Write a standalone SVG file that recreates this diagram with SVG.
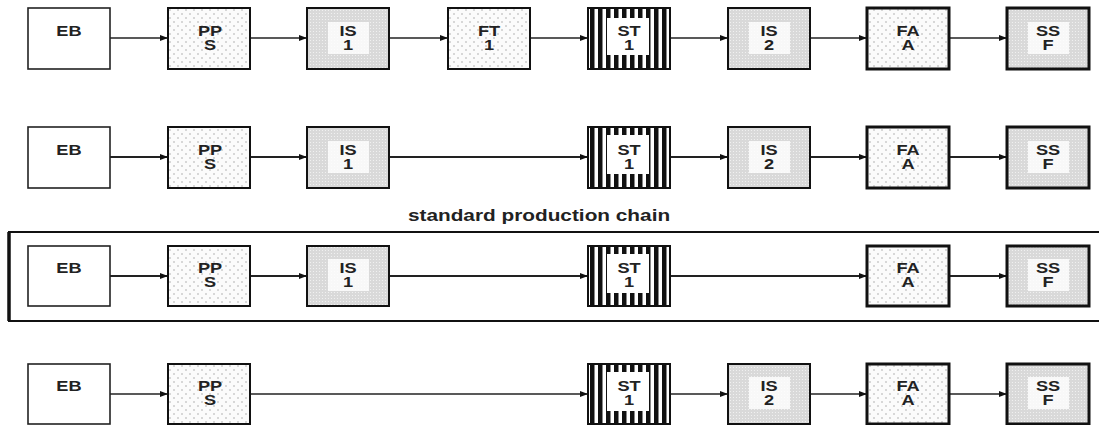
<svg xmlns="http://www.w3.org/2000/svg" width="1099" height="425" viewBox="0 0 1099 425">
<style>
.t{font-family:"Liberation Sans",Arial,sans-serif;font-weight:bold;font-size:14px;fill:#222;text-anchor:middle}
.lbl{font-family:"Liberation Sans",Arial,sans-serif;font-weight:bold;font-size:16px;fill:#222;text-anchor:middle}
.b{stroke:#111;stroke-width:2}
.eb{fill:#fff;stroke:#222;stroke-width:1.6}
.dot{fill:url(#dots)}
.is{fill:url(#stip)}
.st{fill:url(#stripes)}
.thk{stroke-width:3}
.hole{fill:#fff;opacity:0.8}
.c1{stroke:#222;stroke-width:1.4;fill:none;marker-end:url(#ah)}
.c2{stroke:#222;stroke-width:2;fill:none;marker-end:url(#ah)}
</style>
<defs>
<pattern id="dots" width="8" height="8" patternUnits="userSpaceOnUse">
<rect width="8" height="8" fill="#fbfbfb"/>
<circle cx="2" cy="2" r="0.8" fill="#aaa"/>
<circle cx="6" cy="6" r="0.8" fill="#aaa"/>
</pattern>
<pattern id="stip" width="3" height="3" patternUnits="userSpaceOnUse">
<rect width="3" height="3" fill="#d9d9d9"/>
<circle cx="1.5" cy="1.5" r="0.6" fill="#f4f4f4"/>
</pattern>
<pattern id="stripes" width="8" height="8" patternUnits="userSpaceOnUse" x="588">
<rect width="8" height="8" fill="#fff"/>
<rect x="2" width="4.5" height="8" fill="#111"/>
</pattern>
<marker id="ah" markerWidth="8" markerHeight="6" refX="8" refY="3" orient="auto" markerUnits="userSpaceOnUse">
<path d="M0,0 L8,3 L0,6 Z" fill="#111"/>
</marker>
</defs>

<g id="frame">
<path d="M1099,232 H9 V321 H1099" fill="none" stroke="#111" stroke-width="2"/>
<path d="M9,232 V321" stroke="#111" stroke-width="3.5"/>
<g transform="translate(539 221) scale(1.3 1)"><text class="lbl" x="0" y="0">standard production chain</text></g>
</g>

<g id="connectors">
<path class="c1" d="M110,38 H168"/>
<path class="c1" d="M250,38 H307"/>
<path class="c1" d="M389,38 H448"/>
<path class="c1" d="M530,38 H588"/>
<path class="c1" d="M670,38 H728"/>
<path class="c1" d="M810,38 H867"/>
<path class="c1" d="M949,38 H1007"/>
<path class="c2" d="M110,157 H168"/>
<path class="c2" d="M250,157 H307"/>
<path class="c2" d="M389,157 H588"/>
<path class="c2" d="M670,157 H728"/>
<path class="c2" d="M810,157 H867"/>
<path class="c2" d="M949,157 H1007"/>
<path class="c2" d="M110,276 H168"/>
<path class="c2" d="M250,276 H307"/>
<path class="c2" d="M389,276 H588"/>
<path class="c2" d="M670,276 H867"/>
<path class="c2" d="M949,276 H1007"/>
<path class="c1" d="M110,394 H168"/>
<path class="c1" d="M250,394 H588"/>
<path class="c1" d="M670,394 H728"/>
<path class="c1" d="M810,394 H867"/>
<path class="c1" d="M949,394 H1007"/>
</g>

<!-- Row 1 -->
<g id="r1-eb"><rect x="28" y="8" width="82" height="61" class="eb"/><g transform="translate(69 0) scale(1.3 1)"><text class="t" x="0" y="36">EB</text></g></g>
<g id="r1-pps"><rect x="168" y="8" width="82" height="61" class="dot b"/><g transform="translate(210 0) scale(1.3 1)"><text class="t" x="0" y="36">PP</text><text class="t" x="0" y="50">S</text></g></g>
<g id="r1-is1"><rect x="307" y="8" width="82" height="61" class="is b"/><rect x="328" y="22" width="41" height="32" class="hole"/><g transform="translate(348 0) scale(1.3 1)"><text class="t" x="0" y="36">IS</text><text class="t" x="0" y="50">1</text></g></g>
<g id="r1-ft1"><rect x="448" y="8" width="82" height="61" class="dot b"/><g transform="translate(489 0) scale(1.3 1)"><text class="t" x="0" y="36">FT</text><text class="t" x="0" y="50">1</text></g></g>
<g id="r1-st1"><rect x="588" y="8" width="82" height="61" class="st b"/><rect x="607" y="18" width="42" height="37" fill="#fff"/><g transform="translate(629 0) scale(1.3 1)"><text class="t" x="0" y="36">ST</text><text class="t" x="0" y="50">1</text></g></g>
<g id="r1-is2"><rect x="728" y="8" width="82" height="61" class="is b"/><rect x="749" y="22" width="41" height="32" class="hole"/><g transform="translate(769 0) scale(1.3 1)"><text class="t" x="0" y="36">IS</text><text class="t" x="0" y="50">2</text></g></g>
<g id="r1-fa"><rect x="867" y="8" width="82" height="61" class="dot b thk"/><g transform="translate(908 0) scale(1.3 1)"><text class="t" x="0" y="36">FA</text><text class="t" x="0" y="50">A</text></g></g>
<g id="r1-ssf"><rect x="1007" y="8" width="82" height="61" class="is b thk"/><rect x="1028" y="22" width="41" height="32" class="hole"/><g transform="translate(1048 0) scale(1.3 1)"><text class="t" x="0" y="36">SS</text><text class="t" x="0" y="50">F</text></g></g>

<!-- Row 2 -->
<g id="r2-eb"><rect x="28" y="127" width="82" height="61" class="eb"/><g transform="translate(69 0) scale(1.3 1)"><text class="t" x="0" y="155">EB</text></g></g>
<g id="r2-pps"><rect x="168" y="127" width="82" height="61" class="dot b"/><g transform="translate(210 0) scale(1.3 1)"><text class="t" x="0" y="155">PP</text><text class="t" x="0" y="169">S</text></g></g>
<g id="r2-is1"><rect x="307" y="127" width="82" height="61" class="is b"/><rect x="328" y="141" width="41" height="32" class="hole"/><g transform="translate(348 0) scale(1.3 1)"><text class="t" x="0" y="155">IS</text><text class="t" x="0" y="169">1</text></g></g>
<g id="r2-st1"><rect x="588" y="127" width="82" height="61" class="st b"/><rect x="607" y="135" width="42" height="39" fill="#fff"/><g transform="translate(629 0) scale(1.3 1)"><text class="t" x="0" y="155">ST</text><text class="t" x="0" y="169">1</text></g></g>
<g id="r2-is2"><rect x="728" y="127" width="82" height="61" class="is b"/><rect x="749" y="141" width="41" height="32" class="hole"/><g transform="translate(769 0) scale(1.3 1)"><text class="t" x="0" y="155">IS</text><text class="t" x="0" y="169">2</text></g></g>
<g id="r2-fa"><rect x="867" y="127" width="82" height="61" class="dot b thk"/><g transform="translate(908 0) scale(1.3 1)"><text class="t" x="0" y="155">FA</text><text class="t" x="0" y="169">A</text></g></g>
<g id="r2-ssf"><rect x="1007" y="127" width="82" height="61" class="is b thk"/><rect x="1028" y="141" width="41" height="32" class="hole"/><g transform="translate(1048 0) scale(1.3 1)"><text class="t" x="0" y="155">SS</text><text class="t" x="0" y="169">F</text></g></g>

<!-- Row 3 -->
<g id="r3-eb"><rect x="28" y="246" width="82" height="60" class="eb"/><g transform="translate(69 0) scale(1.3 1)"><text class="t" x="0" y="273">EB</text></g></g>
<g id="r3-pps"><rect x="168" y="246" width="82" height="60" class="dot b"/><g transform="translate(210 0) scale(1.3 1)"><text class="t" x="0" y="273">PP</text><text class="t" x="0" y="287">S</text></g></g>
<g id="r3-is1"><rect x="307" y="246" width="82" height="60" class="is b"/><rect x="328" y="259" width="41" height="32" class="hole"/><g transform="translate(348 0) scale(1.3 1)"><text class="t" x="0" y="273">IS</text><text class="t" x="0" y="287">1</text></g></g>
<g id="r3-st1"><rect x="588" y="246" width="82" height="60" class="st b"/><rect x="607" y="254" width="42" height="39" fill="#fff"/><g transform="translate(629 0) scale(1.3 1)"><text class="t" x="0" y="273">ST</text><text class="t" x="0" y="287">1</text></g></g>
<g id="r3-fa"><rect x="867" y="246" width="82" height="60" class="dot b thk"/><g transform="translate(908 0) scale(1.3 1)"><text class="t" x="0" y="273">FA</text><text class="t" x="0" y="287">A</text></g></g>
<g id="r3-ssf"><rect x="1007" y="246" width="82" height="60" class="is b thk"/><rect x="1028" y="259" width="41" height="32" class="hole"/><g transform="translate(1048 0) scale(1.3 1)"><text class="t" x="0" y="273">SS</text><text class="t" x="0" y="287">F</text></g></g>

<!-- Row 4 -->
<g id="r4-eb"><rect x="28" y="364" width="82" height="60" class="eb"/><g transform="translate(69 0) scale(1.3 1)"><text class="t" x="0" y="391">EB</text></g></g>
<g id="r4-pps"><rect x="168" y="364" width="82" height="60" class="dot b"/><g transform="translate(210 0) scale(1.3 1)"><text class="t" x="0" y="391">PP</text><text class="t" x="0" y="405">S</text></g></g>
<g id="r4-st1"><rect x="588" y="364" width="82" height="60" class="st b"/><rect x="607" y="372" width="42" height="39" fill="#fff"/><g transform="translate(629 0) scale(1.3 1)"><text class="t" x="0" y="391">ST</text><text class="t" x="0" y="405">1</text></g></g>
<g id="r4-is2"><rect x="728" y="364" width="82" height="60" class="is b"/><rect x="749" y="377" width="41" height="32" class="hole"/><g transform="translate(769 0) scale(1.3 1)"><text class="t" x="0" y="391">IS</text><text class="t" x="0" y="405">2</text></g></g>
<g id="r4-fa"><rect x="867" y="364" width="82" height="60" class="dot b thk"/><g transform="translate(908 0) scale(1.3 1)"><text class="t" x="0" y="391">FA</text><text class="t" x="0" y="405">A</text></g></g>
<g id="r4-ssf"><rect x="1007" y="364" width="82" height="60" class="is b thk"/><rect x="1028" y="377" width="41" height="32" class="hole"/><g transform="translate(1048 0) scale(1.3 1)"><text class="t" x="0" y="391">SS</text><text class="t" x="0" y="405">F</text></g></g>
</svg>
